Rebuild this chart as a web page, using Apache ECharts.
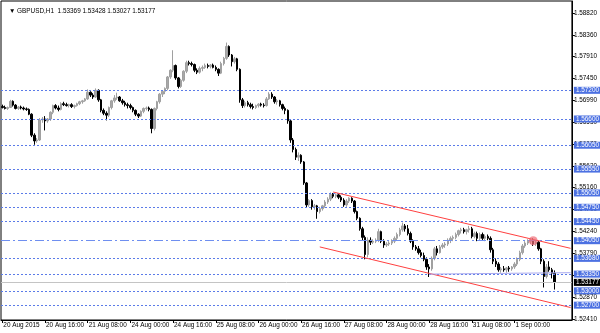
<!DOCTYPE html>
<html><head><meta charset="utf-8">
<script src="https://cdn.jsdelivr.net/npm/echarts@6/dist/echarts.min.js"></script>
<style>html,body{margin:0;padding:0;background:#fff}#c{width:600px;height:333px}</style>
</head><body><div id="c"></div><script>
// Hourly bars, each row: [open, high, low, close]
const ohlcBars = [
[1.5686,1.5690,1.5682,1.5684],[1.5684,1.5688,1.5680,1.5682],[1.5682,1.5686,1.5679,1.5684],[1.5684,1.5700,1.5683,1.5697],
[1.5697,1.5699,1.5686,1.5689],[1.5689,1.5691,1.5680,1.5682],[1.5682,1.5687,1.5679,1.5685],[1.5685,1.5688,1.5680,1.5683],
[1.5683,1.5686,1.5678,1.5681],[1.5681,1.5684,1.5677,1.5680],[1.5680,1.5682,1.5668,1.5670],[1.5670,1.5672,1.5622,1.5626],
[1.5626,1.5630,1.5606,1.5614],[1.5614,1.5620,1.5610,1.5616],[1.5616,1.5662,1.5614,1.5658],[1.5658,1.5664,1.5652,1.5660],
[1.5660,1.5666,1.5636,1.5656],[1.5656,1.5662,1.5652,1.5660],[1.5660,1.5676,1.5656,1.5674],[1.5674,1.5690,1.5670,1.5688],
[1.5688,1.5691,1.5680,1.5683],[1.5683,1.5688,1.5676,1.5680],[1.5680,1.5695,1.5678,1.5692],[1.5692,1.5696,1.5687,1.5690],
[1.5690,1.5694,1.5686,1.5688],[1.5688,1.5692,1.5684,1.5690],[1.5690,1.5693,1.5683,1.5686],[1.5686,1.5690,1.5682,1.5688],
[1.5688,1.5694,1.5686,1.5692],[1.5692,1.5698,1.5689,1.5696],[1.5696,1.5700,1.5692,1.5698],[1.5698,1.5704,1.5696,1.5702],
[1.5702,1.5722,1.5700,1.5716],[1.5716,1.5718,1.5706,1.5710],[1.5710,1.5714,1.5702,1.5706],[1.5706,1.5724,1.5704,1.5720],
[1.5720,1.5722,1.5696,1.5700],[1.5700,1.5702,1.5674,1.5678],[1.5678,1.5682,1.5668,1.5672],[1.5672,1.5676,1.5657,1.5668],
[1.5668,1.5686,1.5664,1.5684],[1.5684,1.5700,1.5680,1.5698],[1.5698,1.5710,1.5694,1.5704],[1.5704,1.5715,1.5700,1.5706],
[1.5706,1.5708,1.5696,1.5698],[1.5698,1.5702,1.5690,1.5694],[1.5694,1.5698,1.5686,1.5690],[1.5690,1.5694,1.5682,1.5688],
[1.5688,1.5692,1.5680,1.5684],[1.5684,1.5686,1.5674,1.5678],[1.5678,1.5680,1.5666,1.5670],[1.5670,1.5672,1.5662,1.5666],
[1.5666,1.5678,1.5664,1.5676],[1.5676,1.5684,1.5672,1.5682],[1.5682,1.5686,1.5678,1.5683],[1.5683,1.5686,1.5676,1.5680],
[1.5680,1.5682,1.5630,1.5640],[1.5640,1.5684,1.5636,1.5682],[1.5682,1.5698,1.5678,1.5696],[1.5696,1.5714,1.5692,1.5712],
[1.5712,1.5720,1.5706,1.5718],[1.5718,1.5726,1.5712,1.5724],[1.5724,1.5750,1.5720,1.5748],[1.5748,1.5764,1.5744,1.5762],
[1.5762,1.5804,1.5758,1.5772],[1.5772,1.5774,1.5742,1.5746],[1.5746,1.5748,1.5724,1.5728],[1.5728,1.5744,1.5725,1.5741],
[1.5741,1.5762,1.5738,1.5760],[1.5760,1.5782,1.5756,1.5778],[1.5778,1.5782,1.5772,1.5776],[1.5776,1.5780,1.5770,1.5774],
[1.5774,1.5776,1.5758,1.5762],[1.5762,1.5766,1.5754,1.5758],[1.5758,1.5770,1.5755,1.5766],[1.5766,1.5772,1.5760,1.5768],
[1.5768,1.5776,1.5765,1.5772],[1.5772,1.5776,1.5766,1.5770],[1.5770,1.5775,1.5766,1.5773],[1.5773,1.5776,1.5766,1.5768],
[1.5768,1.5772,1.5760,1.5764],[1.5764,1.5766,1.5750,1.5756],[1.5756,1.5780,1.5754,1.5776],[1.5776,1.5790,1.5772,1.5787],
[1.5787,1.5820,1.5784,1.5812],[1.5812,1.5814,1.5790,1.5794],[1.5794,1.5796,1.5770,1.5780],[1.5780,1.5790,1.5776,1.5786],
[1.5786,1.5788,1.5760,1.5764],[1.5764,1.5766,1.5694,1.5700],[1.5700,1.5704,1.5683,1.5688],[1.5688,1.5698,1.5684,1.5694],
[1.5694,1.5698,1.5686,1.5690],[1.5690,1.5694,1.5682,1.5686],[1.5686,1.5692,1.5680,1.5684],[1.5684,1.5690,1.5681,1.5688],
[1.5688,1.5693,1.5684,1.5691],[1.5691,1.5694,1.5686,1.5689],[1.5689,1.5693,1.5684,1.5688],[1.5688,1.5706,1.5686,1.5702],
[1.5702,1.5716,1.5700,1.5712],[1.5712,1.5716,1.5702,1.5706],[1.5706,1.5708,1.5692,1.5696],[1.5696,1.5702,1.5690,1.5698],
[1.5698,1.5700,1.5686,1.5690],[1.5690,1.5692,1.5678,1.5682],[1.5682,1.5686,1.5670,1.5678],[1.5678,1.5680,1.5650,1.5656],
[1.5656,1.5658,1.5610,1.5616],[1.5616,1.5620,1.5590,1.5596],[1.5596,1.5600,1.5574,1.5580],[1.5580,1.5590,1.5572,1.5584],
[1.5584,1.5586,1.5566,1.5570],[1.5570,1.5572,1.5522,1.5526],[1.5526,1.5528,1.5474,1.5480],[1.5480,1.5492,1.5476,1.5489],
[1.5489,1.5492,1.5470,1.5476],[1.5476,1.5482,1.5470,1.5478],[1.5478,1.5480,1.5451,1.5466],[1.5466,1.5476,1.5462,1.5472],
[1.5472,1.5480,1.5468,1.5478],[1.5478,1.5490,1.5474,1.5486],[1.5486,1.5496,1.5482,1.5492],[1.5492,1.5506,1.5488,1.5502],
[1.5502,1.5505,1.5494,1.5498],[1.5498,1.5504,1.5494,1.5501],[1.5501,1.5503,1.5492,1.5496],[1.5496,1.5500,1.5486,1.5490],
[1.5490,1.5494,1.5476,1.5480],[1.5480,1.5492,1.5476,1.5488],[1.5488,1.5496,1.5484,1.5494],[1.5494,1.5496,1.5484,1.5488],
[1.5488,1.5490,1.5462,1.5466],[1.5466,1.5468,1.5448,1.5452],[1.5452,1.5454,1.5426,1.5430],[1.5430,1.5434,1.5405,1.5412],
[1.5412,1.5416,1.5366,1.5376],[1.5376,1.5412,1.5370,1.5406],[1.5406,1.5412,1.5396,1.5402],[1.5402,1.5408,1.5398,1.5404],
[1.5404,1.5410,1.5400,1.5406],[1.5406,1.5430,1.5402,1.5424],[1.5424,1.5426,1.5400,1.5404],[1.5404,1.5408,1.5390,1.5396],
[1.5396,1.5402,1.5392,1.5398],[1.5398,1.5404,1.5394,1.5400],[1.5400,1.5408,1.5396,1.5404],[1.5404,1.5414,1.5400,1.5410],
[1.5410,1.5422,1.5406,1.5418],[1.5418,1.5432,1.5414,1.5428],[1.5428,1.5443,1.5424,1.5436],[1.5436,1.5440,1.5424,1.5430],
[1.5430,1.5438,1.5416,1.5420],[1.5420,1.5424,1.5400,1.5404],[1.5404,1.5408,1.5386,1.5392],[1.5392,1.5396,1.5384,1.5388],
[1.5388,1.5394,1.5376,1.5380],[1.5380,1.5386,1.5370,1.5374],[1.5374,1.5380,1.5362,1.5366],[1.5366,1.5370,1.5344,1.5350],
[1.5350,1.5356,1.5329,1.5346],[1.5346,1.5372,1.5342,1.5368],[1.5368,1.5392,1.5364,1.5388],[1.5388,1.5394,1.5374,1.5380],
[1.5380,1.5396,1.5378,1.5392],[1.5392,1.5400,1.5388,1.5396],[1.5396,1.5402,1.5390,1.5398],[1.5398,1.5410,1.5394,1.5406],
[1.5406,1.5414,1.5400,1.5410],[1.5410,1.5416,1.5404,1.5412],[1.5412,1.5422,1.5408,1.5418],[1.5418,1.5428,1.5414,1.5426],
[1.5426,1.5432,1.5420,1.5428],[1.5428,1.5432,1.5420,1.5424],[1.5424,1.5430,1.5418,1.5428],[1.5428,1.5436,1.5422,1.5430],
[1.5430,1.5434,1.5410,1.5414],[1.5414,1.5424,1.5410,1.5420],[1.5420,1.5424,1.5404,1.5410],[1.5410,1.5422,1.5406,1.5418],
[1.5418,1.5422,1.5406,1.5410],[1.5410,1.5418,1.5404,1.5414],[1.5414,1.5418,1.5406,1.5410],[1.5410,1.5414,1.5380,1.5386],
[1.5386,1.5390,1.5356,1.5362],[1.5362,1.5368,1.5350,1.5356],[1.5356,1.5360,1.5340,1.5344],[1.5344,1.5350,1.5338,1.5346],
[1.5346,1.5352,1.5340,1.5344],[1.5344,1.5350,1.5338,1.5348],[1.5348,1.5352,1.5340,1.5346],[1.5346,1.5352,1.5342,1.5350],
[1.5350,1.5360,1.5346,1.5356],[1.5356,1.5370,1.5352,1.5366],[1.5366,1.5384,1.5362,1.5380],[1.5380,1.5398,1.5376,1.5394],
[1.5394,1.5404,1.5390,1.5400],[1.5400,1.5408,1.5396,1.5404],[1.5404,1.5410,1.5398,1.5406],[1.5406,1.5410,1.5394,1.5398],
[1.5398,1.5406,1.5394,1.5402],[1.5402,1.5404,1.5384,1.5388],[1.5388,1.5390,1.5356,1.5362],[1.5362,1.5366,1.5307,1.5330],
[1.5330,1.5356,1.5326,1.5350],[1.5350,1.5362,1.5340,1.5344],[1.5344,1.5348,1.5326,1.5337],[1.53369,1.53428,1.53027,1.53177]
];
const emptySlots = 6; // right-side shift space
const timeLabels = ['20 Aug 2015','20 Aug 16:00','21 Aug 08:00','24 Aug 00:00','24 Aug 16:00','25 Aug 08:00','26 Aug 00:00','26 Aug 16:00','27 Aug 08:00','28 Aug 00:00','28 Aug 16:00','31 Aug 08:00','1 Sep 00:00'];
const barsPerLabel = 16;
const priceTicks = [1.52410,1.52870,1.53330,1.53790,1.54240,1.54700,1.55160,1.55620,1.56070,1.56530,1.56990,1.57450,1.57910,1.58360,1.58820];
const levelLines = [1.57200,1.56600,1.56050,1.55550,1.55050,1.54750,1.54450,1.53680,1.53350,1.53000,1.52700];
const dashDotLevel = 1.54050;
const currentPrice = 1.53177;
const upperChannel = [[124,1.5507],[213,1.5389]];
const lowerChannel = [[119,1.5392],[213,1.5265]];
const supportSegment = [[160,1.5335],[213,1.5338]];
const touchPoint = [199,1.5405];
const header = 'GBPUSD,H1  1.53369 1.53428 1.53027 1.53177';

const cats = [];
for (let i = 0; i < ohlcBars.length + emptySlots; i++) cats.push('b' + i);
const candleData = ohlcBars.map(r => [r[0], r[3], r[2], r[1]]);

const FONT = 'Liberation Sans';
const FS = 6.4;
const boxLabel = (v, bg) => ({show: true, position: 'end', distance: 2, formatter: v.toFixed(5),
  color: '#fff', backgroundColor: bg, padding: [1, 3, 0, 2], fontSize: FS, fontFamily: FONT});

const markData = levelLines.map(v => ({
  yAxis: v,
  lineStyle: {color: '#5b7be8', type: [2, 2], width: 1},
  label: boxLabel(v, '#4c71e2')
}));
markData.push({
  yAxis: dashDotLevel,
  lineStyle: {color: '#6f8ff0', type: [9, 3, 2, 3], width: 1},
  label: boxLabel(dashDotLevel, '#4c71e2')
});
markData.push({
  yAxis: currentPrice,
  lineStyle: {color: '#c4c4c4', type: 'solid', width: 1},
  label: boxLabel(currentPrice, '#000')
});
const seg = (pts, color) => [
  {coord: pts[0], lineStyle: {color: color, type: 'solid', width: 1}, label: {show: false}},
  {coord: pts[1]}
];
markData.push(seg(upperChannel, '#ff4040'));
markData.push(seg(lowerChannel, '#ff4040'));
markData.push(seg(supportSegment, '#a8a8ee'));

const chart = echarts.init(document.getElementById('c'), null, {renderer: 'canvas'});
chart.setOption({
  animation: false,
  backgroundColor: '#fff',
  title: {
    text: '▼ ' + header, left: 4, top: 3,
    textStyle: {fontSize: FS, fontWeight: 'normal', color: '#000', fontFamily: FONT}
  },
  grid: {left: 1, right: 28, top: 1, bottom: 13, show: true, borderColor: '#000', borderWidth: 1, backgroundColor: 'transparent'},
  xAxis: {
    type: 'category', data: cats, boundaryGap: true,
    axisLine: {lineStyle: {color: '#000', width: 1}},
    axisTick: {show: true, alignWithLabel: true, length: 3, lineStyle: {color: '#000'},
      interval: (i) => i % barsPerLabel === 0 && i / barsPerLabel < timeLabels.length},
    axisLabel: {
      interval: (i) => i % barsPerLabel === 0 && i / barsPerLabel < timeLabels.length,
      formatter: (v, i) => timeLabels[i / barsPerLabel] || '',
      align: 'left', margin: 2, padding: [0, 0, 0, 1],
      fontSize: FS, color: '#000', fontFamily: FONT
    },
    splitLine: {show: false}
  },
  yAxis: {
    type: 'value', position: 'right', scale: true,
    min: 1.52389, max: 1.59071,
    axisLine: {show: true, lineStyle: {color: '#000', width: 1}},
    axisTick: {show: true, length: 3, inside: false, customValues: priceTicks, lineStyle: {color: '#000'}},
    axisLabel: {customValues: priceTicks, formatter: (v) => v.toFixed(5), margin: 2,
      fontSize: FS, color: '#000', fontFamily: FONT},
    splitLine: {show: false}
  },
  series: [{
    type: 'candlestick',
    data: candleData,
    barWidth: 2,
    itemStyle: {color: '#a8a8a8', color0: '#000', borderColor: '#a0a0a0', borderColor0: '#000', borderWidth: 1},
    markLine: {
      silent: true, symbol: ['none', 'none'], animation: false, precision: 5,
      data: markData
    },
    markPoint: {
      silent: true, animation: false,
      data: [{coord: touchPoint, symbol: 'circle', symbolSize: 9,
        itemStyle: {color: 'rgba(240,110,120,0.7)'}, label: {show: false}}]
    }
  }]
});
</script></body></html>
